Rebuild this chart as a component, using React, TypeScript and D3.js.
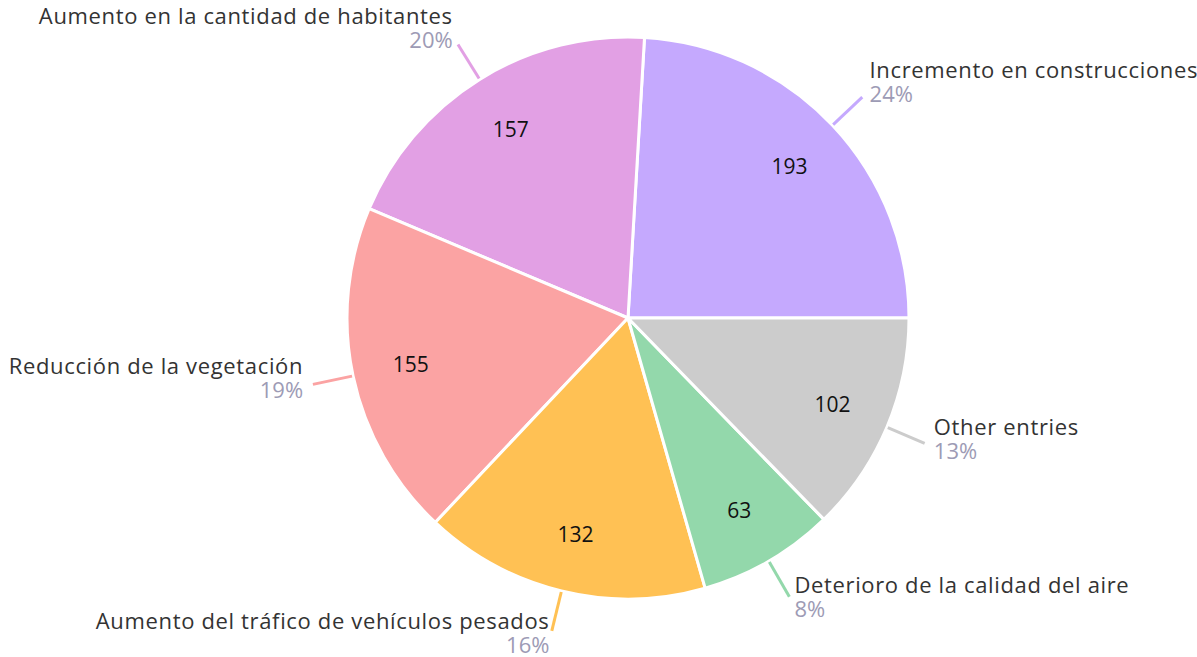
import React from 'react';
import * as d3 from 'd3';

const categories = [
  'Incremento en construcciones',
  'Aumento en la cantidad de habitantes',
  'Reducción de la vegetación',
  'Aumento del tráfico de vehículos pesados',
  'Deterioro de la calidad del aire',
  'Other entries',
];
const values = [193, 157, 155, 132, 63, 102];
const colors = ['#c5a9fe', '#e2a0e4', '#fba3a3', '#ffc154', '#93d8ab', '#cccccc'];

const width = 1197;
const height = 657;
const cx = 628;
const cy = 318;
const radius = 281;
const font = "'Open Sans', sans-serif";

const App = () => {
  const total = d3.sum(values);
  const pie = d3.pie<number>()
    .sort(null)
    .startAngle(Math.PI / 2)
    .endAngle(Math.PI / 2 - 2 * Math.PI);
  const arcs = pie(values);
  const arc = d3.arc<d3.PieArcDatum<number>>().innerRadius(0).outerRadius(radius);

  // point on the mid angle of a slice at radius r
  const at = (a: number, r: number) => [Math.sin(a) * r, -Math.cos(a) * r];

  return (
    <svg width={width} height={height} style={{ position: 'absolute', left: 0, top: 0 }}>
      <g transform={`translate(${cx},${cy})`}>
        {arcs.map((d, i) => (
          <path key={'s' + i} d={arc(d) || ''} fill={colors[i]} stroke="#fff" strokeWidth={3} strokeLinejoin="round" />
        ))}
        {arcs.map((d, i) => {
          const a = (d.startAngle + d.endAngle) / 2;
          const [x1, y1] = at(a, radius + 1);
          const [x2, y2] = at(a, radius + 41);
          const [tx, ty] = at(a, radius + 51);
          const [vx, vy] = at(a, radius * 0.79);
          const right = Math.sin(a) > 0;
          const pct = Math.round((values[i] / total) * 100) + '%';
          return (
            <g key={'l' + i}>
              <line x1={x1} y1={y1} x2={x2} y2={y2} stroke={colors[i]} strokeWidth={3} />
              <text x={vx} y={vy} textAnchor="middle" dominantBaseline="central"
                fontFamily={font} fontSize={21} fill="#111">{values[i]}</text>
              <text x={tx} y={ty - 12} textAnchor={right ? 'start' : 'end'}
                fontFamily={font} fontSize={22} letterSpacing={0.65} fill="#333">{categories[i]}</text>
              <text x={tx} y={ty + 12} textAnchor={right ? 'start' : 'end'}
                fontFamily={font} fontSize={22} fill="#9d9bb5">{pct}</text>
            </g>
          );
        })}
      </g>
    </svg>
  );
};

export default App;
